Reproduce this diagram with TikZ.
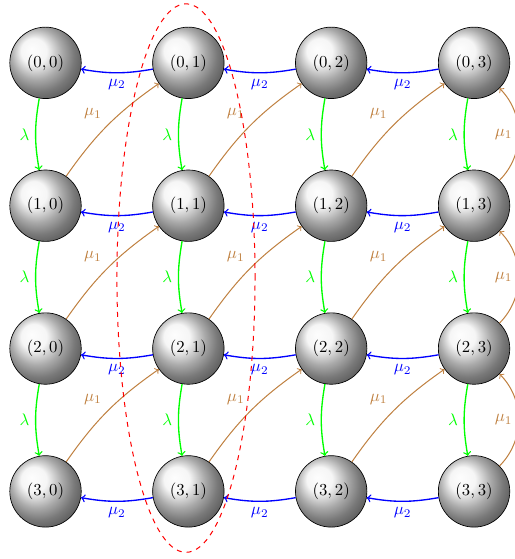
\documentclass[tikz,border=0pt]{standalone}
\usetikzlibrary{shapes.geometric}
\begin{document}
\begin{tikzpicture}[
  state/.style={circle, draw, shading=ball, ball color=gray!10, minimum size=1.5cm, inner sep=0pt},
  mutwo/.style={->, blue, thick, bend left=10},
  lam/.style={->, green, thick, bend right=10},
  muone/.style={->, brown, semithick, bend left=10},
  loopone/.style={->, brown, semithick, bend right=45},
  region/.style={draw=red, dashed, semithick}
]
\useasboundingbox (-0.956,1.32) rectangle (9.84,-10.42);
\foreach \i in {0,...,3}{
  \foreach \j in {0,...,3}{
    \node[state] (n\i\j) at (3*\j,-3*\i) {$(\i,\j)$};
  }
}
% mu2 (leftward)
\foreach \i in {0,...,3}{
  \foreach \j in {1,2,3}{
    \pgfmathtruncatemacro\k{\j-1}
    \draw[mutwo] (n\i\j) to node[below] {$\mu_2$} (n\i\k);
  }
}
% lambda (downward)
\foreach \j in {0,...,3}{
  \foreach \i in {0,1,2}{
    \pgfmathtruncatemacro\ii{\i+1}
    \draw[lam] (n\i\j) to node[left] {$\lambda$} (n\ii\j);
  }
}
% mu1 diagonal
\foreach \i in {0,1,2}{
  \foreach \j in {0,1,2}{
    \pgfmathtruncatemacro\ii{\i+1}
    \pgfmathtruncatemacro\jj{\j+1}
    \draw[muone] (n\ii\j) to node[above left] {$\mu_1$} (n\i\jj);
  }
}
% mu1 right column
\foreach \i in {0,1,2}{
  \pgfmathtruncatemacro\ii{\i+1}
  \draw[loopone] (n\ii3) to node[left] {$\mu_1$} (n\i3);
}
\node[region, ellipse, minimum width=2.9cm, minimum height=11.52cm, inner sep=0pt] (cut) at (2.95,-4.52) {};
\end{tikzpicture}
\end{document}
